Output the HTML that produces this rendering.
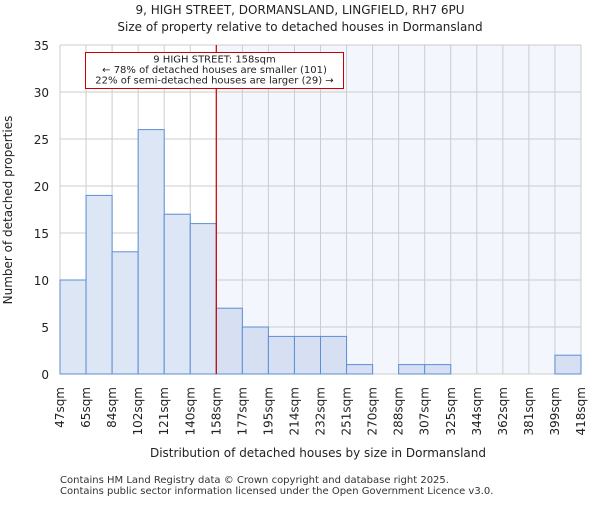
<!DOCTYPE html>
<html><head><meta charset="utf-8"><style>body{margin:0;background:#fff}svg{font-family:"DejaVu Sans","Liberation Sans",sans-serif}</style></head>
<body>
<svg id="chart" width="600" height="500" xmlns="http://www.w3.org/2000/svg">
<text x="300" y="14" text-anchor="middle" font-size="12" fill="#222">9, HIGH STREET, DORMANSLAND, LINGFIELD, RH7 6PU</text>
<text x="300" y="31" text-anchor="middle" font-size="12" fill="#222">Size of property relative to detached houses in Dormansland</text>
<g id="plot"></g>
<text x="318" y="457" text-anchor="middle" font-size="12" fill="#222">Distribution of detached houses by size in Dormansland</text>
<text transform="translate(12,210) rotate(-90)" text-anchor="middle" font-size="12" fill="#222">Number of detached properties</text>
<text x="60" y="483" font-size="10" fill="#333">Contains HM Land Registry data © Crown copyright and database right 2025.</text>
<text x="60" y="494" font-size="10" fill="#333">Contains public sector information licensed under the Open Government Licence v3.0.</text>
</svg>
<script>
const binLabels=["47sqm","65sqm","84sqm","102sqm","121sqm","140sqm","158sqm","177sqm","195sqm","214sqm","232sqm","251sqm","270sqm","288sqm","307sqm","325sqm","344sqm","362sqm","381sqm","399sqm","418sqm"];
const counts=[10,19,13,26,17,16,7,5,4,4,4,1,0,1,1,0,0,0,0,2];
const yTicks=[0,5,10,15,20,25,30,35];
const markerBin=6;
const NS="http://www.w3.org/2000/svg";
const g=document.getElementById('plot');
const L=60,R=581,T=45,B=374,yMax=35;
const bw=(R-L)/counts.length;
const x=i=>L+i*bw;
const y=v=>B-(v/yMax)*(B-T);
function mk(t,a){const e=document.createElementNS(NS,t);for(const k in a)e.setAttribute(k,a[k]);g.appendChild(e);return e;}
let e=mk('rect',{x:x(markerBin),y:T,width:R-x(markerBin),height:B-T,fill:'#f3f6fd'});


yTicks.forEach(v=>{
 let l=mk('line',{x1:L,x2:R,y1:y(v),y2:y(v),stroke:'#cccccc'});
 
 
 let t=mk('text',{x:L-11,y:y(v)+5,'text-anchor':'end','font-size':12,fill:'#222'});
 t.textContent=v;
 
 
});
binLabels.forEach((s,i)=>{
 let l=mk('line',{x1:x(i),x2:x(i),y1:T,y2:B,stroke:'#cccccc'});
 
 
 let t=mk('text',{transform:`translate(${x(i)+4},${B+13}) rotate(-90)`,'text-anchor':'end','font-size':12,fill:'#222'});
 t.textContent=s;
 
 
});
counts.forEach((v,i)=>{
 if(v<=0)return;
 let r=mk('rect',{x:x(i),y:y(v),width:bw,height:B-y(v),fill:i<markerBin?'#dce6f4':'#d6e0f2',stroke:'#5b8ed6','stroke-width':1});
 
 
});
e=mk('line',{x1:x(markerBin),x2:x(markerBin),y1:T,y2:B,stroke:'#cc0000','stroke-width':1.2});


e=mk('rect',{x:85.5,y:52.5,width:258,height:36,fill:'#fff',stroke:'#cc0000'});


["9 HIGH STREET: 158sqm","← 78% of detached houses are smaller (101)","22% of semi-detached houses are larger (29) →"].forEach((s,k)=>{
 let t=mk('text',{x:214.5,y:62.5+k*10.5,'text-anchor':'middle','font-size':10,fill:'#222'});
 t.textContent=s;
 
 
});
</script>
</body></html>
